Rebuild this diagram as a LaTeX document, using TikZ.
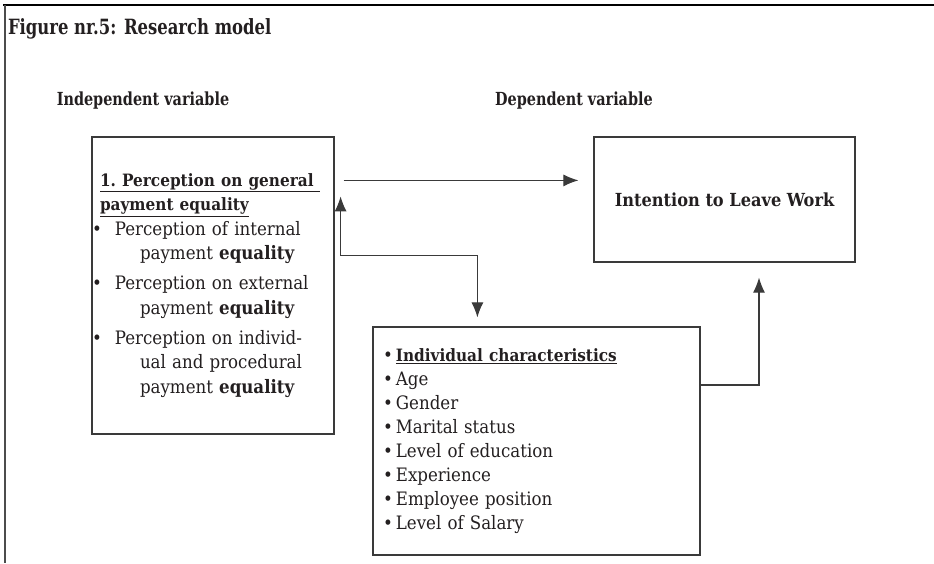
\documentclass[tikz,border=0pt]{standalone}
\usepackage{fontspec}
\setmainfont{DejaVu Serif Condensed}
\usetikzlibrary{arrows.meta}
\definecolor{inkgray}{HTML}{231F20}
\definecolor{linegray}{HTML}{3A3A3A}
\tikzset{
  >={Latex[length=15pt,width=12pt]},
  varbox/.style={draw=linegray, line width=1.2pt, inner sep=1pt, align=left},
  link/.style={draw=linegray, line width=1.1pt},
  heading/.style={font=\bfseries\fontsize{18}{21}\selectfont, transform shape, xscale=0.89}
}
\newcommand{\ulbf}[1]{\underline{\textbf{\fontsize{17}{24}\selectfont #1}}}
\begin{document}
\begin{tikzpicture}[x=1pt, y=-1pt, text=inkgray, font=\fontsize{18.5}{24.5}\selectfont]
\useasboundingbox (0,0) rectangle (934,563);
% frame
\draw[line width=2pt, black] (3,5) -- (934,5);
\draw[line width=2.5pt, black!70] (5,5) -- (5,563);
\node[anchor=west, font=\bfseries\fontsize{21}{24}\selectfont, transform shape, xscale=0.87] (title) at (5,29) {Figure nr.5: Research model};
\node[heading] (indeplabel) at (143,101) {Independent variable};
\node[heading] (deplabel) at (574,101) {Dependent variable};
% boxes
\node[varbox, inner xsep=0pt, minimum width=242, minimum height=297, text width=242] (indep) at (213,285.5) {%
\hspace*{8pt}\ulbf{1.\ Perception on general }\\
\hspace*{8pt}\ulbf{payment equality}\\
\makebox[23pt][l]{\textbullet}Perception of internal\\
\hspace*{48pt}payment \textbf{equality}\\[5.5pt]
\makebox[23pt][l]{\textbullet}Perception on external\\
\hspace*{48pt}payment \textbf{equality}\\[5.5pt]
\makebox[23pt][l]{\textbullet}Perception on individ-\\
\hspace*{48pt}ual and procedural\\
\hspace*{48pt}payment \textbf{equality}};
\node[varbox, minimum width=261, minimum height=125, font=\bfseries\fontsize{18}{22}\selectfont] (dep) at (724.5,199.5) {Intention to Leave Work};
\node[varbox, minimum width=327, minimum height=228, text width=307, font=\fontsize{18.5}{24}\selectfont] (chars) at (536.5,441) {%
\textbullet\,\ulbf{Individual characteristics}\\
\textbullet\,Age\\
\textbullet\,Gender\\
\textbullet\,Marital status\\
\textbullet\,Level of education\\
\textbullet\,Experience\\
\textbullet\,Employee position\\
\textbullet\,Level of Salary};
% connectors
\draw[link, ->] ([shift={(9,44)}]indep.north east) -- ([shift={(-15,44)}]dep.north west);
\draw[link, <->] ([shift={(6,60)}]indep.north east) |- ([shift={(105,-71)}]chars.north west) -- ([shift={(105,-9)}]chars.north west);
\draw[link, ->] ([yshift=56]chars.east) -| ([shift={(34.5,15)}]dep.south);
\end{tikzpicture}
\end{document}
